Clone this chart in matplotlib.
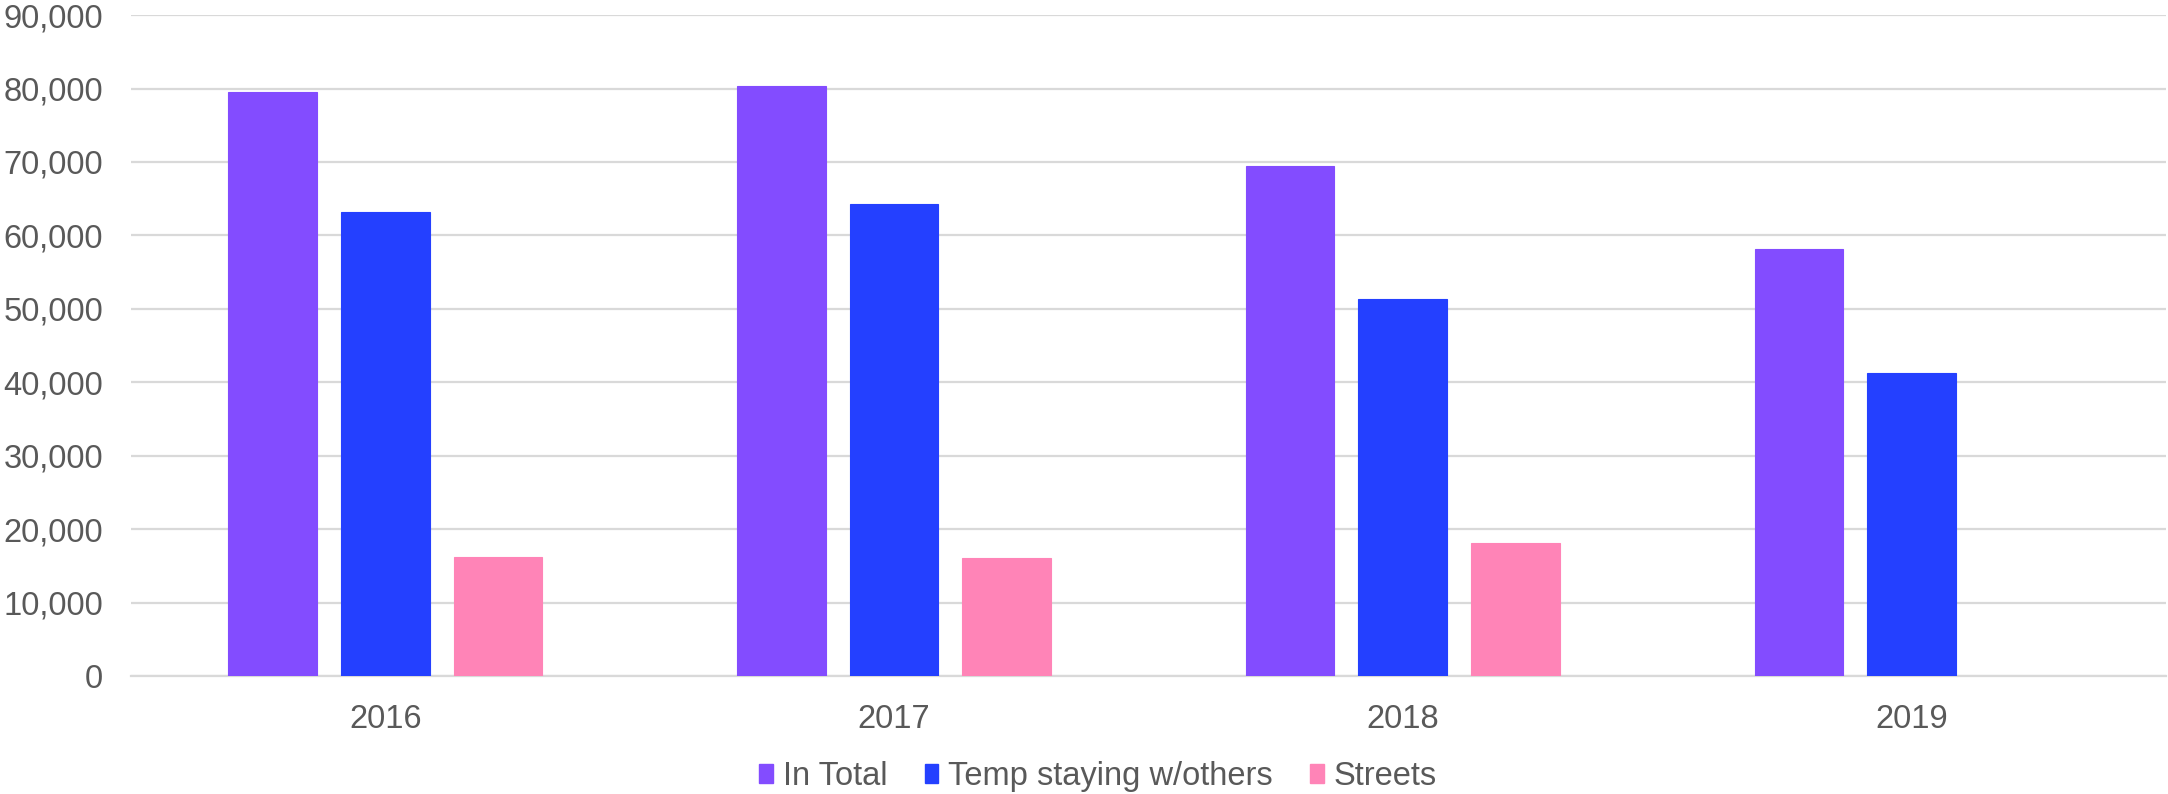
import matplotlib
matplotlib.use("Agg")
import matplotlib.pyplot as plt
import numpy as np
from matplotlib.patches import Patch
from matplotlib.ticker import FuncFormatter

years = ["2016", "2017", "2018", "2019"]
series_names = ["In Total", "Temp staying w/others", "Streets"]
in_total = [79550, 80410, 69470, 58210]
temp_staying = [63230, 64230, 51340, 41320]
streets = [16240, 16090, 18080, np.nan]
colors = ["#834CFF", "#2440FF", "#FF84B7"]

plt.rcParams['font.family'] = ['Liberation Sans', 'DejaVu Sans']
text_color = "#595959"
grid_color = "#D9D9D9"

fig = plt.figure(figsize=(21.68, 7.94), dpi=100)
ax = fig.add_axes([0.0604, 0.1486, 0.9386, 0.8324])

x = np.arange(len(years))
pitch = 0.2215
width = 0.174
all_series = [in_total, temp_staying, streets]
for i, (vals, col) in enumerate(zip(all_series, colors)):
    ax.bar(x + (i - 1) * pitch, vals, width=width, color=col, zorder=3,
           edgecolor=col, linewidth=0.8)

ax.set_xlim(-0.5, len(years) - 0.5)
ax.set_ylim(0, 90000)
ax.set_yticks(np.arange(0, 90001, 10000))
ax.yaxis.set_major_formatter(FuncFormatter(lambda v, p: f"{int(v):,}"))
ax.set_xticks(x)
ax.set_xticklabels(years)

ax.grid(axis='y', color=grid_color, linewidth=1.6, zorder=0)
for s in ['top', 'right', 'left']:
    ax.spines[s].set_visible(False)
ax.spines['bottom'].set_color(grid_color)
ax.spines['bottom'].set_linewidth(1.6)
ax.tick_params(axis='both', length=0, labelsize=23.5, colors=text_color)
ax.tick_params(axis='y', pad=20)
ax.tick_params(axis='x', pad=20)

handles = [Patch(facecolor=c, edgecolor=c) for c in colors]
fig.legend(handles, series_names, loc='center', bbox_to_anchor=(0.5065, 0.022),
           ncol=3, frameon=False, fontsize=23.5, handlelength=0.42,
           handleheight=0.52, handletextpad=0.3, columnspacing=1.15,
           labelcolor=text_color)

fig.savefig("out.png", dpi=100, facecolor="white")
